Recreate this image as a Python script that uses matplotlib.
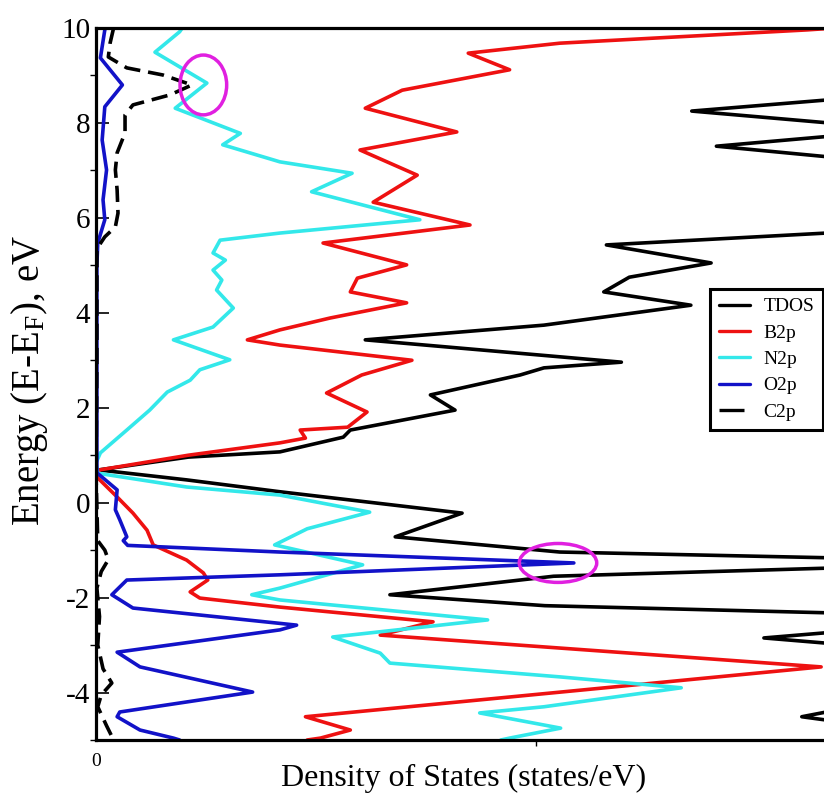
import matplotlib
matplotlib.use("Agg")
import matplotlib.pyplot as plt
from matplotlib.patches import Ellipse

plt.rcParams["font.family"] = ["Liberation Serif", "DejaVu Serif"]
plt.rcParams["mathtext.fontset"] = "custom"
plt.rcParams["mathtext.rm"] = "Liberation Serif"
plt.rcParams["mathtext.it"] = "Liberation Serif:italic"
plt.rcParams["axes.unicode_minus"] = False

# energy (eV) / DOS pairs, read top to bottom
E_tdos = [10.0, 8.62, 8.25, 7.86, 7.51, 7.13, 6.40, 5.75, 5.43, 5.05, 4.75, 4.44, 4.16, 3.74,
          3.43, 2.96, 2.84, 2.69, 2.27, 1.95, 1.53, 1.38, 1.07, 0.96, 0.69, 0.48, 0.23, -0.22,
          -0.72, -1.04, -1.16, -1.27, -1.38, -1.55, -1.94, -2.17, -2.32, -2.50, -2.74, -2.85,
          -2.96, -3.60, -4.41, -4.51, -4.58, -5.0]
dos_tdos = [9.6, 9.2, 6.77, 9.2, 7.05, 9.2, 9.6, 9.0, 5.80, 6.99, 6.06, 5.77, 6.76, 5.09,
            3.06, 5.97, 5.09, 4.82, 3.80, 4.08, 2.89, 2.81, 2.09, 1.05, 0.03, 1.03, 2.09, 4.16,
            3.40, 5.27, 8.3, 9.6, 8.3, 5.2, 3.34, 5.1, 8.3, 9.6, 8.3, 7.59,
            8.3, 9.6, 8.3, 8.02, 8.3, 9.6]

E_b2p = [10.0, 9.96, 9.68, 9.47, 9.12, 8.69, 8.31, 7.81, 7.43, 6.90, 6.33, 5.85, 5.47, 5.01,
         4.73, 4.44, 4.21, 3.89, 3.64, 3.43, 3.32, 3.00, 2.69, 2.31, 1.91, 1.59, 1.53, 1.36,
         1.26, 1.00, 0.69, 0.54, 0.12, -0.22, -0.58, -0.89, -1.21, -1.48, -1.63, -1.88, -2.01,
         -2.20, -2.51, -2.79, -3.46, -4.51, -4.79, -4.96, -5.0]
dos_b2p = [8.4, 8.08, 5.27, 4.23, 4.70, 3.48, 3.06, 4.10, 3.00, 3.65, 3.15, 4.25, 2.58, 3.53,
           2.97, 2.89, 3.53, 2.66, 2.09, 1.72, 2.09, 3.59, 3.02, 2.62, 3.08, 2.86, 2.32, 2.38,
           2.09, 1.05, 0.04, 0.01, 0.24, 0.42, 0.58, 0.65, 1.03, 1.22, 1.27, 1.07, 1.18,
           2.09, 3.83, 3.23, 8.24, 2.38, 2.89, 2.55, 2.4]

E_n2p = [10.0, 9.92, 9.49, 8.84, 8.31, 7.78, 7.54, 7.18, 6.94, 6.55, 5.96, 5.68, 5.53, 5.26,
         5.11, 4.90, 4.69, 4.48, 4.10, 3.70, 3.43, 3.01, 2.80, 2.58, 2.33, 1.95, 1.53, 1.05,
         0.84, 0.62, 0.33, 0.16, -0.20, -0.55, -0.89, -1.31, -1.80, -1.94, -2.05, -2.47, -2.83,
         -3.17, -3.38, -3.67, -3.90, -4.30, -4.43, -4.75, -4.96, -5.0]
dos_n2p = [0.98, 0.95, 0.67, 1.26, 0.90, 1.64, 1.44, 2.09, 2.91, 2.45, 3.68, 2.09, 1.41, 1.33,
           1.47, 1.33, 1.43, 1.37, 1.56, 1.33, 0.88, 1.52, 1.18, 1.07, 0.81, 0.61, 0.35, 0.05,
           0.0, 0.02, 1.03, 2.09, 3.11, 2.40, 2.03, 3.03, 2.09, 1.77, 2.09, 4.45, 2.69,
           3.23, 3.34, 5.27, 6.65, 5.09, 4.36, 5.28, 4.70, 4.6]

E_o2p = [10.0, 9.96, 9.37, 8.80, 8.34, 7.64, 7.01, 6.38, 5.96, 5.47, 5.0, 3.0, 1.0, 0.63,
         0.27, -0.15, -0.36, -0.72, -0.80, -0.90, -1.04, -1.27, -1.52, -1.63, -1.94, -2.22,
         -2.58, -2.68, -3.15, -3.46, -3.99, -4.41, -4.51, -4.79, -4.96, -5.0]
dos_o2p = [0.11, 0.10, 0.05, 0.30, 0.10, 0.07, 0.12, 0.08, 0.10, 0.02, 0.01, 0.01, 0.01, 0.01,
           0.24, 0.22, 0.27, 0.35, 0.31, 0.36, 2.09, 5.43, 2.09, 0.35, 0.18, 0.42,
           2.28, 2.09, 0.24, 0.50, 1.78, 0.27, 0.24, 0.50, 0.88, 0.95]

E_c2p = [10.0, 9.92, 9.68, 9.39, 9.16, 9.01, 8.80, 8.59, 8.38, 8.17, 7.79, 7.37, 7.01, 6.59,
         6.10, 5.81, 5.60, 5.35, 3.0, 0.6, -0.8, -1.0, -1.2, -1.45, -1.8, -2.4, -3.0, -3.5,
         -3.8, -4.05, -4.3, -4.7, -5.0]
dos_c2p = [0.20, 0.19, 0.16, 0.14, 0.35, 0.76, 1.09, 0.84, 0.42, 0.33, 0.33, 0.24, 0.22, 0.24,
           0.25, 0.22, 0.10, 0.01, 0.01, 0.0, 0.02, 0.10, 0.14, 0.06, 0.01, 0.04, 0.02, 0.08,
           0.18, 0.06, 0.02, 0.12, 0.20]

# highlighted features: (dos, energy, width, height)
marks = [(1.22, 8.80, 0.53, 1.26), (5.25, -1.27, 0.88, 0.82)]

LW = 2.6
line_kw = dict(lw=LW, solid_joinstyle="round", solid_capstyle="round")
fig = plt.figure(figsize=(8.24, 8.07), dpi=100)
# the DOS axis runs past the right edge of the figure on purpose
ax = fig.add_axes([96 / 824, 67 / 807, 880 / 824, 712 / 807])

ax.plot(dos_tdos, E_tdos, color="black", label="TDOS", **line_kw)
ax.plot(dos_b2p, E_b2p, color="#ee1111", label="B2p", **line_kw)
ax.plot(dos_n2p, E_n2p, color="#33e8ea", label="N2p", **line_kw)
ax.plot(dos_o2p, E_o2p, color="#1212c8", label="O2p", **line_kw)
ax.plot(dos_c2p, E_c2p, color="black", lw=LW, dashes=(4.5, 2.2), label="C2p")

for x0, y0, w, h in marks:
    ax.add_patch(Ellipse((x0, y0), w, h, fill=False, edgecolor="#e020e0", lw=2.5, zorder=5))

ax.set_xlim(0, 10)
ax.set_ylim(-5, 10)
ax.set_xticks([0, 10])
ax.set_xticklabels(["0", ""])
ax.set_xticks([5], minor=True)
ax.set_yticks(range(-4, 11, 2))
ax.set_yticks(range(-5, 11, 2), minor=True)
ax.tick_params(direction="in", top=True, right=True, width=1.2)
ax.tick_params(which="major", length=9.5)
ax.tick_params(which="minor", length=4.5, width=1.0)
ax.tick_params(axis="y", labelsize=21, pad=4)
ax.tick_params(axis="x", labelsize=14, pad=9)
for sp in ax.spines.values():
    sp.set_linewidth(2.3)

fig.text(464 / 824, 1 - 778 / 807, "Density of States (states/eV)", fontsize=23,
         ha="center", va="center")
fig.text(30 / 824, 1 - 380 / 807, r"Energy (E-E$_\mathrm{F}$), eV", fontsize=28,
         rotation=90, ha="center", va="center")

leg = fig.legend(loc="upper left", bbox_to_anchor=(710 / 824, 1 - 289 / 807),
                 fontsize=14, frameon=True, fancybox=False, framealpha=1,
                 edgecolor="black", handlelength=1.6, handletextpad=0.7,
                 labelspacing=0.45, borderpad=0.45, borderaxespad=0)
leg.get_frame().set_linewidth(2.2)
for h in leg.get_lines():
    h.set_linewidth(2.4)
leg.get_lines()[4].set_dashes((7.5, 4))

fig.savefig("out.png", dpi=100)
